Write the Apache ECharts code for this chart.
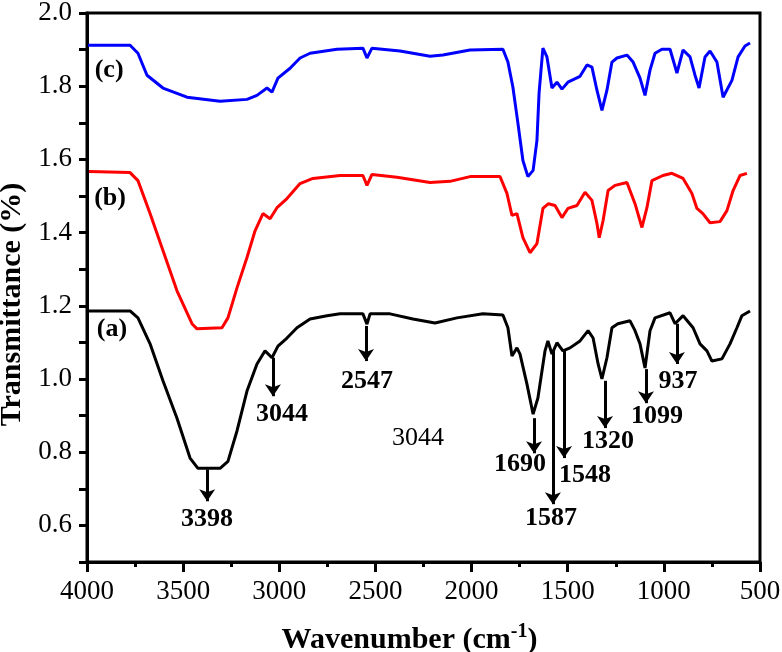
<!DOCTYPE html>
<html>
<head>
<meta charset="utf-8">
<script src="https://cdn.jsdelivr.net/npm/echarts@6/dist/echarts.min.js"></script>
<style>
  html, body { margin: 0; padding: 0; background: #fff; }
  #chart { width: 782px; height: 652px; }
</style>
</head>
<body>
<div id="chart"></div>
<script>
// FTIR spectra, [wavenumber, transmittance]
var curveA = [[3995,1.186],[3776,1.186],[3735,1.167],[3672,1.096],[3605,0.995],[3532,0.893],[3464,0.784],[3423,0.756],[3308,0.756],[3267,0.775],[3220,0.858],[3168,0.967],[3116,1.041],[3074,1.077],[3038,1.058],[3007,1.090],[2960,1.112],[2908,1.140],[2840,1.164],[2752,1.173],[2684,1.178],[2565,1.178],[2544,1.150],[2528,1.178],[2424,1.178],[2305,1.164],[2190,1.153],[2076,1.167],[1941,1.178],[1837,1.175],[1811,1.140],[1790,1.063],[1764,1.085],[1748,1.068],[1712,0.986],[1680,0.904],[1655,0.948],[1618,1.077],[1603,1.104],[1582,1.068],[1556,1.099],[1525,1.077],[1488,1.085],[1436,1.104],[1394,1.132],[1368,1.112],[1342,1.041],[1322,1.000],[1296,1.058],[1270,1.140],[1239,1.151],[1176,1.159],[1150,1.132],[1124,1.096],[1098,1.030],[1072,1.132],[1046,1.167],[968,1.181],[942,1.151],[900,1.173],[848,1.140],[812,1.096],[776,1.077],[750,1.049],[698,1.055],[656,1.096],[620,1.140],[594,1.173],[552,1.186]];

var curveB = [[3990,1.567],[3776,1.564],[3735,1.542],[3672,1.452],[3605,1.351],[3532,1.241],[3454,1.151],[3428,1.137],[3298,1.140],[3267,1.167],[3220,1.249],[3168,1.332],[3126,1.405],[3085,1.452],[3048,1.438],[3012,1.468],[2960,1.493],[2892,1.534],[2825,1.548],[2684,1.556],[2565,1.556],[2544,1.529],[2518,1.559],[2388,1.551],[2216,1.537],[2112,1.540],[2008,1.553],[1852,1.553],[1816,1.507],[1790,1.447],[1764,1.452],[1733,1.386],[1696,1.345],[1660,1.370],[1629,1.466],[1600,1.479],[1566,1.474],[1530,1.441],[1499,1.466],[1452,1.474],[1410,1.510],[1374,1.488],[1348,1.425],[1336,1.386],[1316,1.433],[1290,1.515],[1254,1.529],[1192,1.537],[1150,1.479],[1114,1.414],[1088,1.468],[1062,1.542],[1005,1.556],[958,1.562],[900,1.548],[854,1.507],[828,1.466],[797,1.452],[760,1.427],[708,1.430],[672,1.460],[640,1.515],[604,1.556],[568,1.562]];

var curveC = [[3995,1.912],[3776,1.912],[3735,1.890],[3688,1.830],[3605,1.795],[3480,1.770],[3308,1.759],[3168,1.764],[3116,1.775],[3064,1.795],[3038,1.784],[3007,1.822],[2944,1.849],[2892,1.877],[2840,1.890],[2700,1.901],[2565,1.904],[2544,1.877],[2518,1.904],[2372,1.896],[2216,1.882],[2149,1.885],[2008,1.899],[1837,1.901],[1811,1.866],[1785,1.797],[1759,1.699],[1733,1.597],[1707,1.553],[1680,1.570],[1660,1.652],[1649,1.781],[1629,1.904],[1608,1.880],[1582,1.795],[1556,1.811],[1530,1.792],[1499,1.811],[1436,1.827],[1400,1.858],[1374,1.852],[1348,1.789],[1322,1.734],[1296,1.789],[1270,1.866],[1244,1.877],[1192,1.885],[1160,1.866],[1124,1.822],[1098,1.775],[1072,1.844],[1046,1.890],[1010,1.901],[968,1.901],[932,1.836],[900,1.899],[864,1.880],[838,1.830],[817,1.795],[786,1.880],[760,1.896],[724,1.866],[692,1.770],[646,1.816],[614,1.880],[578,1.910],[552,1.918]];

// peak arrows: [wavenumber, from, to]
var peakArrows = [[3375,0.753,0.666],[3033,1.058,0.953],[2549,1.145,1.049],[1675,0.893,0.797],[1577,1.077,0.658],[1519,1.077,0.784],[1306,0.995,0.866],[1093,1.027,0.934],[932,1.151,1.041]];

// peak labels: [text, wavenumber, transmittance]
var peakLabels = [['3398',3376,0.616],['3044',2986,0.904],['2547',2544,0.995],['1690',1748,0.767],['1587',1587,0.619],['1548',1410,0.737],['1320',1291,0.830],['1099',1036,0.899],['937',927,0.995]];
var looseNotes = [['3044',2279,0.838]];
var curveTags = [['(a)',3870,1.137],['(b)',3880,1.493],['(c)',3885,1.844]];

var serif = 'Liberation Serif';
var chart = echarts.init(document.getElementById('chart'));

function textPoints(list) {
  return list.map(function (t) { return { name: t[0], value: [t[1], t[2]] }; });
}

var option = {
  animation: false,
  grid: {
    left: 87, right: 22, top: 13, bottom: 90,
    outerBoundsMode: 'none',
    show: true, borderColor: '#000', borderWidth: 3
  },
  xAxis: {
    type: 'value',
    inverse: true,
    min: 500, max: 4000, interval: 500,
    name: 'Wavenumber (cm{sup|-1}){gap|}',
    nameLocation: 'middle',
    nameGap: 60,
    nameTextStyle: {
      fontFamily: serif, fontWeight: 'bold', fontSize: 30, color: '#000',
      rich: {
        sup: { fontFamily: serif, fontWeight: 'bold', fontSize: 20, color: '#000', padding: [0, 0, 16, 0] },
        gap: { width: 28 }
      }
    },
    axisLine: { show: true, lineStyle: { color: '#000', width: 3 } },
    axisTick: { show: true, length: 10, lineStyle: { color: '#000', width: 3 } },
    minorTick: { show: true, splitNumber: 2, length: 5, lineStyle: { color: '#000', width: 3 } },
    axisLabel: {
      margin: 16, fontFamily: serif, fontSize: 27, color: '#000',
      formatter: function (v) { return String(v); }
    },
    splitLine: { show: false }
  },
  yAxis: {
    type: 'value',
    min: 0.5, max: 2.0, interval: 0.1,
    name: 'Transmittance (%){gap|}',
    nameLocation: 'middle',
    nameGap: 56,
    nameTextStyle: {
      fontFamily: serif, fontWeight: 'bold', fontSize: 30, color: '#000',
      rich: { gap: { width: 34 } }
    },
    axisLine: { show: true, lineStyle: { color: '#000', width: 3 } },
    axisTick: { show: true, length: 8, lineStyle: { color: '#000', width: 3 } },
    axisLabel: {
      margin: 15, fontFamily: serif, fontSize: 27, color: '#000',
      formatter: function (v) { return Math.round(v * 10) % 2 === 0 ? v.toFixed(1) : ''; }
    },
    splitLine: { show: false }
  },
  series: [
    {
      name: '(a)', type: 'line', data: curveA, showSymbol: false, silent: true,
      lineStyle: { color: '#000', width: 3 },
      markLine: {
        silent: true,
        symbol: ['none', 'arrow'],
        symbolSize: 12,
        label: { show: false },
        lineStyle: { color: '#000', width: 3, type: 'solid' },
        data: peakArrows.map(function (a) { return [{ coord: [a[0], a[1]] }, { coord: [a[0], a[2]] }]; })
      }
    },
    {
      name: '(b)', type: 'line', data: curveB, showSymbol: false, silent: true,
      lineStyle: { color: '#ff0000', width: 3 }
    },
    {
      name: '(c)', type: 'line', data: curveC, showSymbol: false, silent: true,
      lineStyle: { color: '#0000ff', width: 3 }
    },
    {
      type: 'scatter', symbolSize: 0, silent: true, itemStyle: { opacity: 1 },
      data: textPoints(peakLabels.concat(curveTags)),
      label: { show: true, position: 'inside', formatter: '{b}', fontFamily: serif, fontWeight: 'bold', fontSize: 26, color: '#000', opacity: 1, textBorderWidth: 0 }
    },
    {
      type: 'scatter', symbolSize: 0, silent: true, itemStyle: { opacity: 1 },
      data: textPoints(looseNotes),
      label: { show: true, position: 'inside', formatter: '{b}', fontFamily: serif, fontSize: 26, color: '#000', opacity: 1, textBorderWidth: 0 }
    }
  ]
};
chart.setOption(option);
</script>
</body>
</html>
